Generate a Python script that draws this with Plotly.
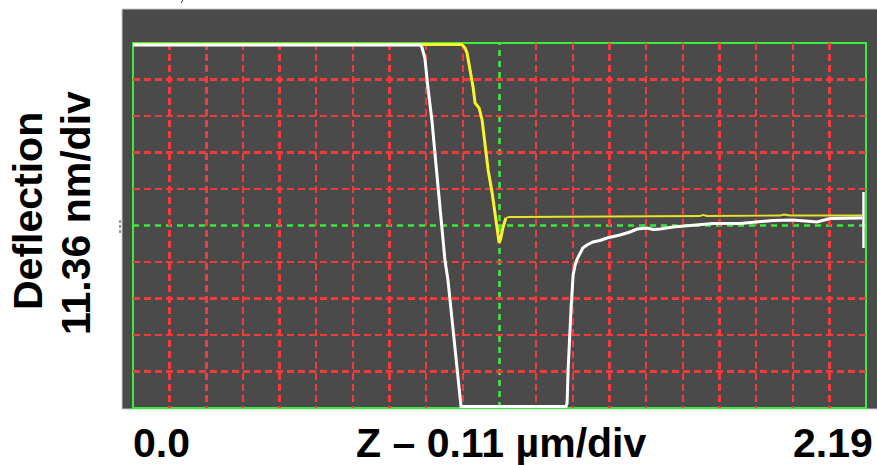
import plotly.graph_objects as go

# ---- data (x in µm, y in nm) ----
approach_x = [0.0, 0.983, 0.992, 0.998, 1.007, 1.016, 1.022, 1.028, 1.034, 1.043, 1.052, 1.061,
              1.073, 1.082, 1.088, 1.094, 1.099, 1.105, 1.114, 1.123, 1.147, 1.395, 1.694, 1.703,
              1.715, 1.933, 1.945, 1.963, 2.178]
approach_y = [56.33, 56.33, 55.24, 53.69, 48.40, 43.10, 38.13, 37.19, 36.57, 32.84, 25.68, 17.27,
              10.11, 2.65, -2.02, -5.45, -3.89, -0.78, 2.33, 2.65, 2.65, 2.80, 2.96, 3.27,
              2.96, 3.11, 3.42, 3.11, 3.11]
approach_drop_end = 19   # index where the approach curve becomes flat

retract_x = [0.0, 0.857, 0.863, 0.872, 0.881, 0.893, 0.902, 0.911, 0.923, 0.932, 0.941, 0.947,
             0.956, 0.968, 0.980, 1.294, 1.297, 1.300, 1.303, 1.309, 1.315, 1.321, 1.327, 1.336,
             1.344, 1.356, 1.374, 1.395, 1.416, 1.455, 1.485, 1.506, 1.536, 1.554, 1.575, 1.613,
             1.664, 1.733, 1.814, 1.873, 1.912, 1.972, 2.014, 2.044, 2.082, 2.178]
retract_y = [56.18, 56.18, 55.55, 52.13, 43.10, 32.84, 22.56, 11.98, -0.47, -10.74, -16.96, -23.19,
             -33.46, -44.04, -56.33, -56.33, -55.24, -44.97, -37.81, -25.36, -15.41, -12.29, -10.43, -8.56,
             -7.00, -6.07, -5.14, -4.67, -3.89, -2.96, -2.02, -1.09, -0.78, -1.24, -1.09, -0.47,
             0.0, 0.62, 0.62, 1.09, 1.56, 1.71, 1.40, 1.09, 2.18, 2.33]

end_spike_x = [2.1825, 2.1825]
end_spike_y = [10.43, -7.00]

z_per_div = 0.1095      # µm per division
n_x_div = 20
defl_per_div = 11.36    # nm per division
n_y_div = 10
x_range = [0.0, 2.19]
y_range = [-56.8, 56.8]

x_left_label = "0.0"
x_right_label = "2.19"
x_title = "Z – 0.11 µm/div"
y_title_1 = "Deflection"
y_title_2 = "11.36 nm/div"

# grid positions (centre line drawn separately in green)
x_center = x_range[0] + z_per_div * n_x_div / 2
y_center = 0.0
x_grid = [x_range[0] + i * z_per_div for i in range(1, n_x_div) if i != n_x_div // 2]
y_grid = [y_range[0] + i * defl_per_div for i in range(1, n_y_div) if i != n_y_div // 2]

# ---- figure ----
W, H = 877, 465
L, R, T, B = 133, 11, 43, 57
pw, ph = W - L - R, H - T - B

def px(xp):
    return (xp - L) / pw

def py(yp):
    return (H - B - yp) / ph

RED = "rgb(245,58,60)"
GREEN = "rgb(60,235,60)"
YELLOW = "rgb(250,245,40)"

fig = go.Figure()
fig.add_trace(go.Scatter(x=approach_x[approach_drop_end - 1:], y=approach_y[approach_drop_end - 1:],
                         mode="lines", line=dict(color="rgb(235,225,40)", width=1.8), hoverinfo="skip"))
fig.add_trace(go.Scatter(x=approach_x[:approach_drop_end], y=approach_y[:approach_drop_end],
                         mode="lines", line=dict(color=YELLOW, width=3), hoverinfo="skip"))
fig.add_trace(go.Scatter(x=retract_x, y=retract_y, mode="lines",
                         line=dict(color="white", width=3), hoverinfo="skip"))
fig.add_trace(go.Scatter(x=end_spike_x, y=end_spike_y, mode="lines",
                         line=dict(color="white", width=2.5), hoverinfo="skip"))

axis_common = dict(showticklabels=False, ticks="", zeroline=False, showline=False,
                   showgrid=True, gridcolor=RED, gridwidth=2.4, griddash="7px,4px",
                   tickmode="array")
fig.update_xaxes(range=x_range, tickvals=x_grid, **axis_common)
fig.update_yaxes(range=y_range, tickvals=y_grid, **axis_common)

shapes = [
    # dark panel
    dict(type="rect", xref="paper", yref="paper", x0=px(122), x1=px(880), y0=py(409), y1=py(9),
         fillcolor="rgb(74,74,74)", line=dict(color="rgb(200,200,200)", width=1), layer="below"),
    # centre lines
    dict(type="line", xref="x", yref="paper", x0=x_center, x1=x_center, y0=0, y1=1,
         line=dict(color=GREEN, width=2.6, dash="6px,5px"), layer="between"),
    dict(type="line", xref="paper", yref="y", x0=0, x1=1, y0=y_center, y1=y_center,
         line=dict(color=GREEN, width=2.6, dash="6px,5px"), layer="between"),
    # green frame
    dict(type="rect", xref="paper", yref="paper", x0=0, x1=1, y0=0, y1=1,
         line=dict(color=GREEN, width=2), layer="between"),
    # small marks
    dict(type="line", xref="paper", yref="paper", x0=px(120), x1=px(120), y0=py(220), y1=py(235),
         line=dict(color="rgb(150,150,150)", width=2, dash="3px,2px")),
    dict(type="line", xref="paper", yref="paper", x0=px(183), x1=px(181), y0=py(0), y1=py(3),
         line=dict(color="rgb(60,60,60)", width=1)),
]

font = dict(family="Liberation Sans, Arial, sans-serif", size=41, color="black")
ann = [
    dict(text="<b>%s</b>" % x_left_label, x=px(131), y=py(443), xanchor="left", yanchor="middle"),
    dict(text="<b>%s</b>" % x_title, x=px(501), y=py(443), xanchor="center", yanchor="middle"),
    dict(text="<b>%s</b>" % x_right_label, x=px(875), y=py(443), xanchor="right", yanchor="middle"),
    dict(text="<b>%s</b>" % y_title_1, x=px(28), y=py(211), xanchor="center", yanchor="middle",
         textangle=-90),
    dict(text="<b>%s</b>" % y_title_2, x=px(76), y=py(213), xanchor="center", yanchor="middle",
         textangle=-90),
]
for a in ann:
    a.update(xref="paper", yref="paper", showarrow=False, font=font)

fig.update_layout(width=W, height=H, margin=dict(l=L, r=R, t=T, b=B),
                  paper_bgcolor="white", plot_bgcolor="rgba(0,0,0,0)",
                  showlegend=False, shapes=shapes, annotations=ann)

fig.write_html("out.html", config={"displayModeBar": False, "staticPlot": True})

# remove the browser's default page margin so the figure sits at the window origin
with open("out.html", encoding="utf-8") as f:
    html = f.read()
html = html.replace("<head>", "<head><style>html,body{margin:0;padding:0;overflow:hidden}</style>", 1)
with open("out.html", "w", encoding="utf-8") as f:
    f.write(html)
